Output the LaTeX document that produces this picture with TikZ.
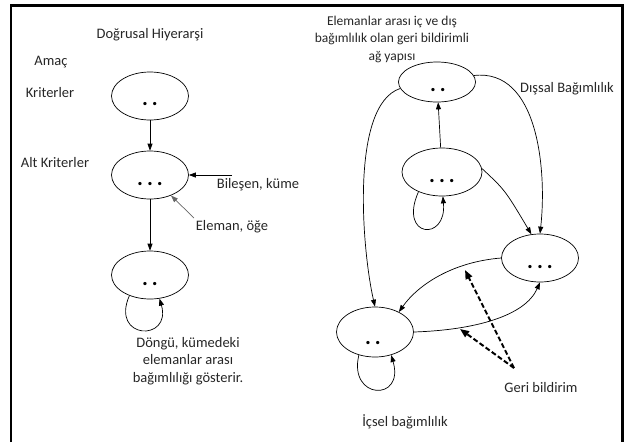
\documentclass[tikz,border=0pt]{standalone}
\usepackage{fontspec}
\setmainfont{Carlito}
\usetikzlibrary{shapes.geometric,arrows.meta}
\newcommand{\twodots}{.\hspace{4pt}.}
\newcommand{\threedots}{.\hspace{4pt}.\hspace{4pt}.}
\begin{document}
\begin{tikzpicture}[x=1pt,y=-1pt,
    set/.style={draw, ellipse, minimum width=77pt, minimum height=48pt, inner sep=0pt, line width=0.7pt},
    dt/.style={font=\bfseries\fontsize{22}{22}\selectfont, inner sep=0pt},
    txt/.style={font=\fontsize{14.5}{17.5}\selectfont, align=center, text=black!85},
    arr/.style={-{Triangle[length=7pt,width=5pt]}, line width=0.7pt},
    fb/.style={-{Triangle[length=9pt,width=7pt]}, line width=2pt, dash pattern=on 5pt off 2.5pt}]
  \useasboundingbox (0,0) rectangle (626,442);
  \draw[line width=2.5pt] (11,442) -- (11,5.5) -- (622.5,5.5) -- (622.5,442);

  % left: linear hierarchy
  \node[txt] (title1) at (150,35) {Doğrusal Hiyerarşi};
  \node[txt] (amac) at (51,62) {Amaç};
  \node[txt] (krit) at (50,93) {Kriterler};
  \node[txt] (altk) at (55,163) {Alt Kriterler};
  \node[set] (e1) at (150,96) {};
  \node[set] (e2) at (150,175) {};
  \node[set] (e3) at (150,275) {};
  \node[dt] (d1) at (150,104) {\twodots};
  \node[dt] (d2) at (150,184) {\threedots};
  \node[dt] (d3) at (150,284) {\twodots};
  \draw[arr] (e1) -- (e2);
  \draw[arr] (e2) -- (e3);
  \draw[arr] (e3.225) .. controls (110,340) and (172,342) .. (e3.-68);

  \node[txt] (bil) at (258,185) {Bileşen, küme};
  \coordinate (bilc) at (232,175);
  \draw[arr] (bilc) -- (e2);
  \node[txt] (ele) at (232,227) {Eleman, öğe};
  \coordinate (elec) at (194,218);
  \draw[arr, black!60] (elec) -- (e2);
  \node[txt] (dongu) at (188,361) {Döngü, kümedeki\\elemanlar arası\\bağımlılığı gösterir.};

  % right: network with feedback
  \node[txt, font=\fontsize{13.5}{17.5}\selectfont] (title2) at (392,39) {Elemanlar arası iç ve dış\\bağımlılık olan geri bildirimli\\ağ yapısı};
  \node[txt] (dis) at (567,89) {Dışsal Bağımlılık};
  \node[set, minimum height=40pt] (A) at (437,82) {};
  \node[set, minimum width=80pt] (B) at (442,172) {};
  \node[set] (C) at (540,258) {};
  \node[set, minimum height=50pt] (D) at (375,332) {};
  \node[dt] (dA) at (438,90) {\twodots};
  \node[dt] (dB) at (442,181) {\threedots};
  \node[dt] (dC) at (540,267) {\threedots};
  \node[dt] (dD) at (373,343) {\twodots};
  \draw[arr] (B) -- (A);
  \draw[arr] (B.220) .. controls (398,238) and (447,242) .. (B.-88);
  \draw[arr] (A.190) .. controls (350,105) and (362,250) .. (D.north);
  \draw[arr] (A.10) .. controls (538,68) and (547,170) .. (C.north);
  \draw[arr] (B.5) .. controls (505,190) .. (C.110);
  \draw[arr] (C.west) .. controls (452,262) and (418,285) .. (D.40);
  \draw[arr] (D.east) .. controls (475,330) and (525,316) .. (C.-90);
  \draw[arr] (D.235) .. controls (348,400) and (405,402) .. (D.-55);

  \coordinate (fbc) at (514,368);
  \coordinate (fb1) at (465,270);
  \coordinate (fb2) at (460,329);
  \draw[fb] (fbc) -- (fb1);
  \draw[fb] (fbc) -- (fb2);
  \node[txt] (geri) at (541,388) {Geri bildirim};
  \node[txt] (icsel) at (405,422) {İçsel bağımlılık};
\end{tikzpicture}
\end{document}
